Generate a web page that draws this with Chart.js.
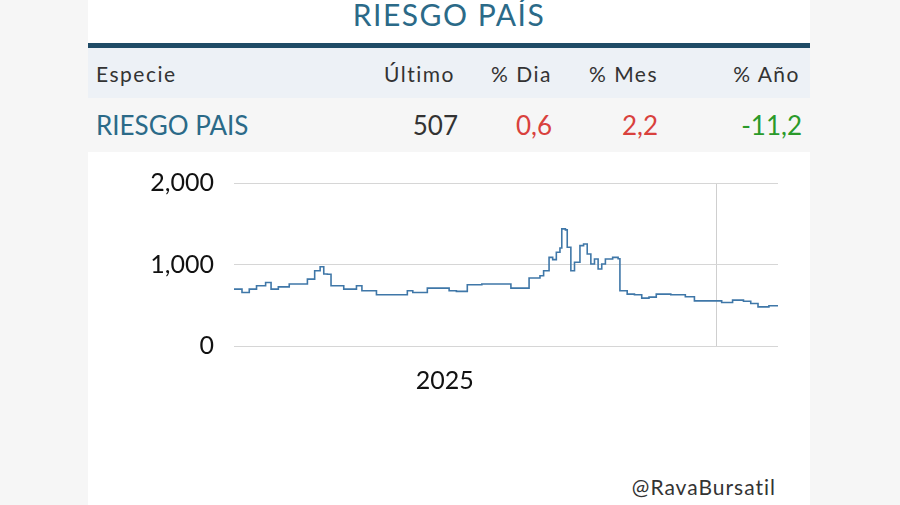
<!DOCTYPE html>
<html><head><meta charset="utf-8">
<script src="https://cdn.jsdelivr.net/npm/chart.js@4"></script>
<style>
body{margin:0;width:900px;height:505px;background:#f6f6f6;font-family:Lato,sans-serif;overflow:hidden}
#card{position:absolute;left:88px;top:0;width:722px;height:505px;background:#fff}
#title{position:absolute;left:0;width:722px;top:-4px;text-align:center;font-size:30px;color:#2b6a88;letter-spacing:1.5px}
#rule{position:absolute;left:0;top:43px;width:722px;height:5px;background:#1f4b66}
.row{position:absolute;left:0;width:722px;display:flex;align-items:center}
.row span{position:absolute}
#hdr{top:48px;height:50px;background:#edf1f6;font-size:21px;color:#333;letter-spacing:1.5px}
#dat{top:98px;height:54px;background:#f6f6f6;font-size:26px}
#wrap{position:absolute;left:0;top:148px;width:722px;height:268px}
#foot{position:absolute;right:34px;top:474px;font-size:21px;color:#333;letter-spacing:1px}
</style></head><body>
<div id="card">
<div id="title">RIESGO PAÍS</div>
<div id="rule"></div>
<div class="row" id="hdr">
<span style="left:8px">Especie</span>
<span style="right:355px">Último</span>
<span style="right:258px">% Dia</span>
<span style="right:152px">% Mes</span>
<span style="right:10px">% Año</span>
</div>
<div class="row" id="dat">
<span style="left:8px;color:#2b6a88">RIESGO PAIS</span>
<span style="right:352px;color:#333">507</span>
<span style="right:258px;color:#d9413d">0,6</span>
<span style="right:152px;color:#d9413d">2,2</span>
<span style="right:8px;color:#2a9a2a">-11,2</span>
</div>
<div id="wrap"><canvas id="c"></canvas></div>
<div id="foot">@RavaBursatil</div>
</div>
<script>
const tiempo = [0,22,42,62,87,102,122,152,182,202,222,237,247,257,267,302,337,352,392,462,477,492,532,572,592,612,642,682,757,762,802,812,842,852,867,877,887,897,902,912,917,927,937,952,962,972,982,992,1002,1012,1022,1042,1057,1062,1082,1102,1122,1142,1162,1202,1242,1267,1327,1342,1372,1402,1422,1442,1472,1497];
const riesgo = [698,657,698,739,780,698,725,760,760,821,924,973,883,880,739,698,739,678,628,628,678,657,710,710,678,670,752,760,760,710,710,834,862,924,1088,1060,1150,1203,1437,1425,1211,924,1027,1232,1252,1129,1006,1068,944,1006,1068,1088,1070,678,637,628,587,600,637,628,604,554,554,534,563,550,522,480,493,493];
const yTicks = [0, 1000, 2000];
const xLabel = "2025", xLabelPos = 580, xGridPos = 1327;

new Chart(document.getElementById("c"), {
  type: "line",
  data: { datasets: [{ data: tiempo.map((t, i) => ({ x: t, y: riesgo[i] })),
    borderColor: "#3f77a8", borderWidth: 1.6, pointRadius: 0, stepped: true, fill: false }] },
  options: {
    responsive: true, maintainAspectRatio: false, animation: false,
    layout: { padding: { left: 0, right: 32, top: 0, bottom: 0 } },
    plugins: { legend: { display: false }, tooltip: { enabled: false } },
    scales: {
      x: {
        type: "linear", min: 0, max: 1497,
        afterBuildTicks: (s) => { s.ticks = [{ value: xLabelPos }, { value: xGridPos }]; },
        ticks: { callback: (v) => v === xLabelPos ? xLabel : "", maxRotation: 0, color: "#111", font: { family: "Lato", size: 25 }, padding: 20 },
        grid: { color: (c) => c.tick && c.tick.value === xGridPos ? "#cfcfcf" : "transparent", drawTicks: false },
        border: { display: false },
      },
      y: {
        min: 0, max: 2000,
        afterBuildTicks: (s) => { s.ticks = yTicks.map((v) => ({ value: v })); },
        afterFit: (s) => { s.width = 146; },
        ticks: { callback: (v) => v.toLocaleString("en-US"), color: "#111", font: { family: "Lato", size: 25 }, padding: 20 },
        grid: { color: "#d6d6d6", drawTicks: false },
        border: { display: false },
      },
    },
  },
});
</script>
</body></html>
